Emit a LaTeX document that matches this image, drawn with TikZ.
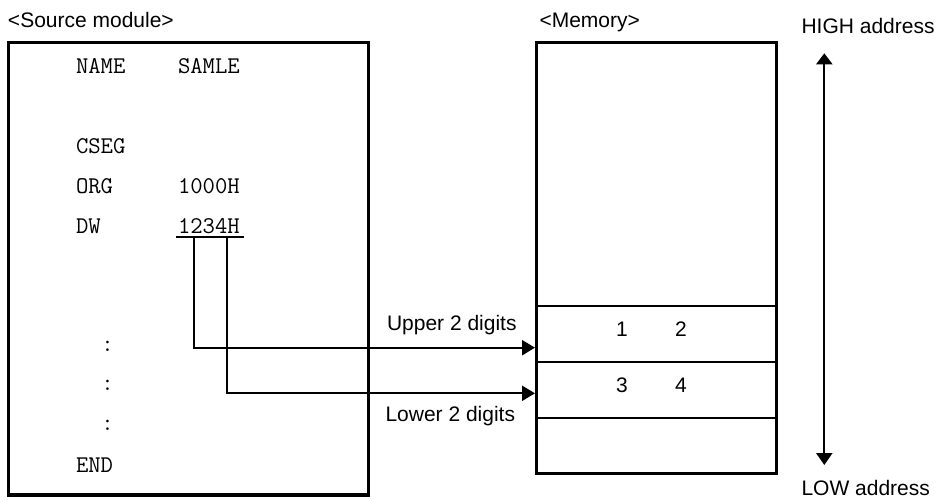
\documentclass[tikz,border=0pt]{standalone}
\usepackage{fontspec}
\setmainfont{Liberation Sans}
\usetikzlibrary{arrows.meta}
\begin{document}
\begin{tikzpicture}[x=1pt,y=-1pt,
  txt/.style={inner sep=0pt,outer sep=0pt,anchor=base west,font=\fontsize{21}{25}\selectfont},
  code/.style={inner sep=0pt,outer sep=0pt,anchor=base west,font=\fontsize{24}{28}\selectfont\ttfamily},
  ctr/.style={inner sep=0pt,outer sep=0pt,anchor=base,font=\fontsize{21}{25}\selectfont},
  bigbox/.style={draw,line width=3.3pt,inner sep=0pt,outer sep=0pt},
  thin/.style={line width=2pt},
  conn/.style={line width=2.2pt,-{Triangle[length=13pt,width=15pt]}}]
\useasboundingbox (0,0) rectangle (939,499);
% titles
\node[txt] (t1) at (8,27) {<Source module>};
\node[txt] (t2) at (539.5,27) {<Memory>};
\node[txt] (t3) at (801.5,33) {HIGH address};
\node[txt] (t4) at (801.5,495) {LOW address};
% boxes
\node[bigbox,minimum width=359.8pt,minimum height=452.7pt] (src) at (188.4,268.65) {};
\node[bigbox,minimum width=240pt,minimum height=431pt] (mem) at (656.7,257.8) {};
% memory dividers
\coordinate (r1) at (0,305.8);
\coordinate (r2) at (0,361.7);
\coordinate (r3) at (0,417.7);
\draw[thin] (mem.west |- r1) -- (mem.east |- r1);
\draw[thin] (mem.west |- r2) -- (mem.east |- r2);
\draw[thin] (mem.west |- r3) -- (mem.east |- r3);
% memory contents
\node[ctr] (m1) at (622,336.7) {1};
\node[ctr] (m2) at (681,336.7) {2};
\node[ctr] (m3) at (622,392.7) {3};
\node[ctr] (m4) at (681,392.7) {4};
% source code
\node[code] (c1) at (76,73) {NAME};
\node[code] (c2) at (178,73) {SAMLE};
\node[code] (c3) at (76,153) {CSEG};
\node[code] (c4) at (76,193) {ORG};
\node[code] (c5) at (178,193) {1000H};
\node[code] (c6) at (76,233) {DW};
\node[code] (c7) at (178,233) {1234H};
\node[code,anchor=base] (c8) at (107.5,351) {:};
\node[code,anchor=base] (c9) at (107.5,390) {:};
\node[code,anchor=base] (c10) at (107.5,430) {:};
\node[code] (c11) at (76,472) {END};
% underline
\coordinate (u1) at (176,236.7);
\coordinate (u2) at (244,236.7);
\draw[thin] (u1) -- (u2);
% connectors
\coordinate (d1) at (193.8,236.7);
\coordinate (d2) at (227.2,236.7);
\coordinate (in1) at (535,347.7);
\coordinate (in2) at (535,393.3);
\draw[conn] (d1) |- (in1);
\draw[conn] (d2) |- (in2);
\node[txt] (lu) at (387,330) {Upper 2 digits};
\node[txt] (ll) at (385.5,421.5) {Lower 2 digits};
% address arrow
\coordinate (hi) at (824.3,53.3);
\coordinate (lo) at (824.3,465);
\draw[line width=2.2pt,{Triangle[length=11pt,width=16pt]}-{Triangle[length=12pt,width=16pt]}] (hi) -- (lo);
\end{tikzpicture}
\end{document}
